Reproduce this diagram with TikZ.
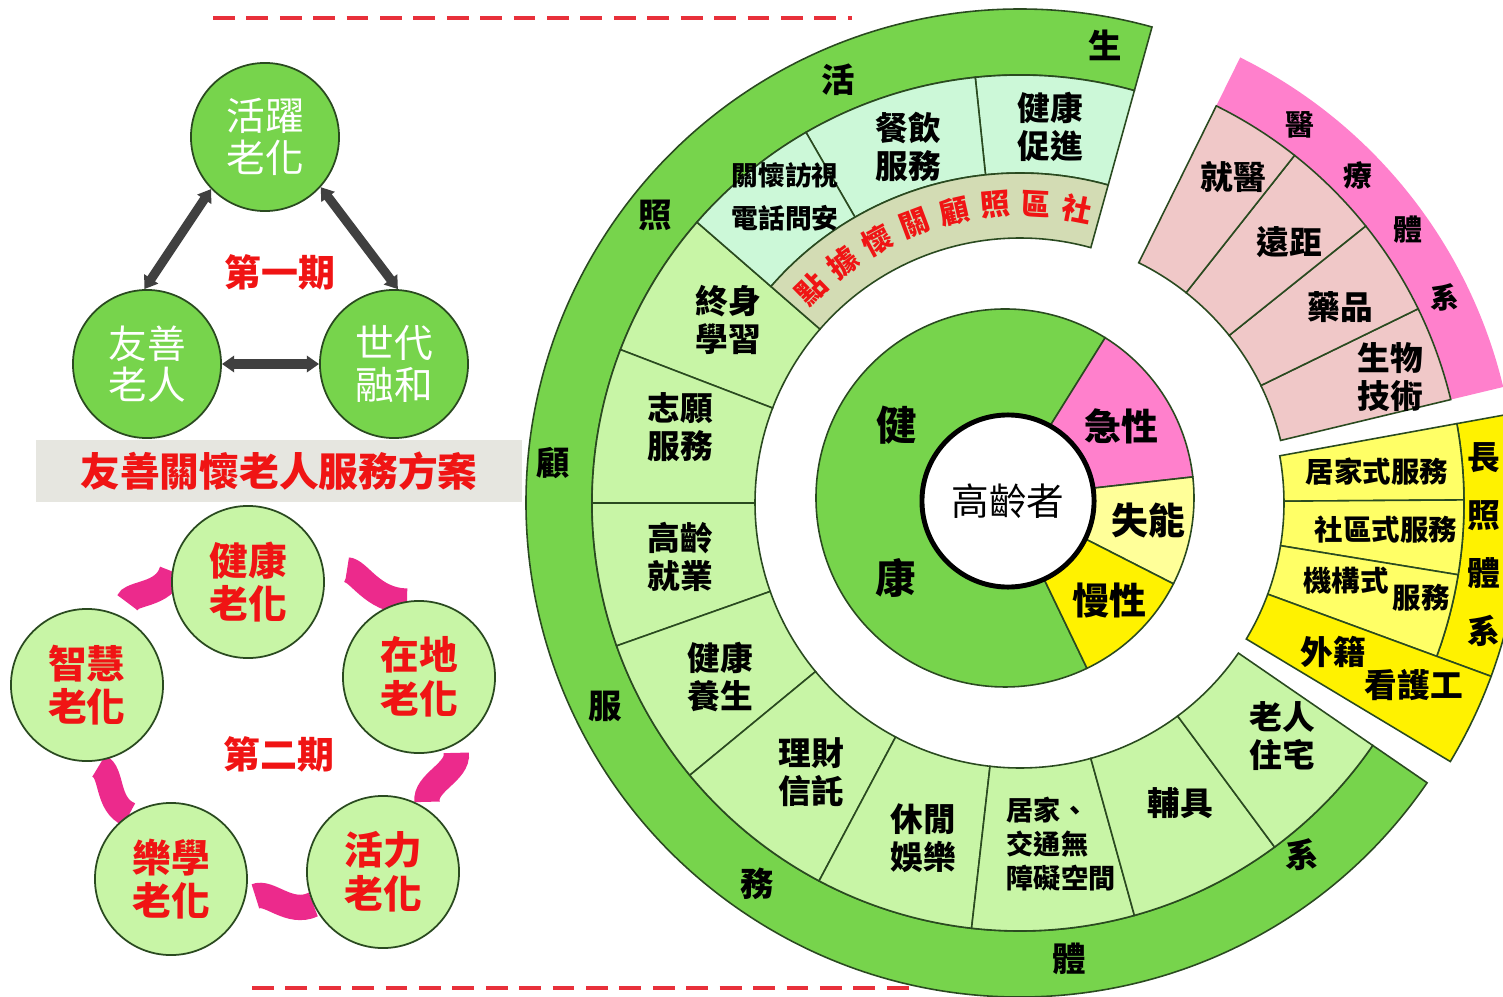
\documentclass[tikz,border=0pt]{standalone}
\usepackage{fontspec}
\setmainfont{Noto Sans CJK TC}
\usetikzlibrary{arrows.meta,backgrounds}

\definecolor{bandgreen}{HTML}{77D44C}
\definecolor{cellgreen}{HTML}{C8F5A6}
\definecolor{cellmint}{HTML}{CCF8D8}
\definecolor{celltan}{HTML}{D3DCB4}
\definecolor{bandpink}{HTML}{FF80CC}
\definecolor{cellrose}{HTML}{F0C8C8}
\definecolor{paleyellow}{HTML}{FFFF99}
\definecolor{cellyellow}{HTML}{FFFF66}
\definecolor{ribbonpink}{HTML}{EC2A8C}
\definecolor{dashred}{HTML}{E8303A}
\definecolor{edgedark}{HTML}{2A4A20}
\definecolor{bannergray}{HTML}{E6E6E0}
\definecolor{textred}{HTML}{F01414}
\definecolor{arrowgray}{HTML}{404040}

% annular sector: start angle, end angle, inner radius, outer radius, options
\newcommand{\ringseg}[5]{%
  \draw[#5] (#1:#3) arc[start angle=#1, end angle=#2, radius=#3]
    -- (#2:#4) arc[start angle=#2, end angle=#1, radius=#4] -- cycle;}

\begin{document}
\begin{tikzpicture}[x=0.01cm, y=0.01cm,
  every node/.style = {inner sep=0pt, align=center},
  seg/.style = {draw=edgedark, line width=0.45pt},
  bandchar/.style = {font=\fontsize{9.5}{10}\selectfont\bfseries},
  arcchar/.style = {text=textred, font=\fontsize{8.4}{9}\selectfont\bfseries},
  celltxt/.style = {font=\fontsize{9.3}{10.8}\selectfont\bfseries},
  smalltxt/.style = {font=\fontsize{7.7}{9.6}\selectfont\bfseries},
  yeltxt/.style = {font=\fontsize{8.1}{10}\selectfont\bfseries},
  piechar/.style = {font=\fontsize{10.5}{12}\selectfont\bfseries},
  firstcirc/.style = {circle, draw=edgedark, line width=0.5pt, fill=bandgreen,
    minimum size=1.48cm, text=white, font=\fontsize{11}{11.8}\selectfont},
  secondcirc/.style = {circle, draw=edgedark, line width=0.5pt, fill=cellgreen,
    minimum size=1.52cm, text=textred, font=\fontsize{11}{12.4}\selectfont\bfseries},
  twoway/.style = {draw=arrowgray, line width=2.6pt,
    >={Triangle[length=3.5pt,width=4.6pt]}, <->},
  ribbon/.style = {draw=ribbonpink, line width=7.2pt},
  redtitle/.style = {text=textred, font=\fontsize{10.5}{12}\selectfont\bfseries},
  dashline/.style = {draw=dashred, line width=1pt, dash pattern=on 6.2pt off 3.3pt}]

\useasboundingbox (0,0) rectangle (1503,-997);
\clip (0,0) rectangle (1503,-997);

\draw[dashline] (213,-18) -- (852,-18);
\draw[dashline] (252,-988) -- (920,-988);

% service ring
\begin{scope}[shift={(1020,-503)}]
  \ringseg{74.5}{325.5}{428}{494}{seg, fill=bandgreen}
  \foreach \a/\b in {139/159, 159/180, 180/199.5, 199.5/219.5, 219.5/242,
                     242/263.5, 263.5/285.5, 285.5/306.5, 306.5/325.5}
    {\ringseg{\a}{\b}{265}{428}{seg, fill=cellgreen}}
  \foreach \a/\b in {74.5/96, 96/120, 120/139}
    {\ringseg{\a}{\b}{330}{428}{seg, fill=cellmint}}
  \ringseg{74.5}{139}{265}{330}{seg, fill=celltan}
  \foreach \ch [count=\i from 0] in {社,區,照,顧,關,懷,據,點}
    \node[arcchar, rotate=79+7.9*\i-90] (shequ-\i) at ({79+7.9*\i}:299) {\ch};
  % medical
  \ringseg{13.5}{63.7}{443}{497}{draw=none, fill=bandpink}
  \foreach \a/\b in {13.5/26, 26/38.7, 38.7/51.7, 51.7/63.7}
    {\ringseg{\a}{\b}{268}{443}{seg, fill=cellrose}}
  % long-term care
  \ringseg{-20.2}{10.3}{444}{502}{seg, fill=yellow}
  \foreach \a/\b in {0.4/10.3, -9.3/0.4, -20.2/-9.3}
    {\ringseg{\a}{\b}{264}{444}{seg, fill=cellyellow}}
  \ringseg{-31}{-20.2}{264}{502}{seg, fill=yellow}
\end{scope}

% health pie
\begin{scope}[shift={(1005,-498)}]
  \foreach \a/\b/\c in {58/295.7/bandgreen, 6.4/58/bandpink, -27/6.4/paleyellow, -64.3/-27/yellow}
    {\draw[seg, fill=\c] (0,0) -- (\a:189) arc[start angle=\a, end angle=\b, radius=189] -- cycle;}
\end{scope}
\node[circle, draw, line width=1.4pt, fill=white, minimum size=1.72cm,
  font=\fontsize{10.7}{12}\selectfont] (gaoling) at (1008,-501) {高齡者};
\node[font=\fontsize{11.5}{12}\selectfont\bfseries] (jian) at (897,-425) {健};
\node[font=\fontsize{11.5}{12}\selectfont\bfseries] (kang) at (896,-578) {康};
\node[piechar] (jixing) at (1121,-426) {急性};
\node[piechar] (shineng) at (1148,-521) {失能};
\node[piechar] (manxing) at (1109,-601) {慢性};

% ring band letters
\foreach \ch/\x/\y [count=\i] in {生/1105/45, 活/838/80, 照/655/215, 顧/553/463,
    服/605/706, 務/757/884, 體/1069/959, 系/1302/855}
  \node[bandchar] (shfw-\i) at (\x,-\y) {\ch};
\foreach \ch/\x/\y [count=\i] in {醫/1300/125, 療/1358/175, 體/1408/230, 系/1445/297}
  \node[bandchar, font=\fontsize{8.2}{9}\selectfont\bfseries] (ylt-\i) at (\x,-\y) {\ch};
\node[bandchar, font=\fontsize{9.3}{16.5}\selectfont\bfseries] (zhangzhao) at (1484,-545) {長\\照\\體\\系};

% ring cells
\node[celltxt] (jkcj) at (1050,-127) {健康\\促進};
\node[celltxt] (cyfw) at (908,-147) {餐飲\\服務};
\node[smalltxt, font=\fontsize{7.6}{12.2}\selectfont\bfseries] (ghfs) at (785,-197) {關懷訪視\\電話問安};
\node[celltxt] (zsxx) at (728,-320) {終身\\學習};
\node[celltxt] (zyfw) at (680,-427) {志願\\服務};
\node[celltxt] (gljy) at (680,-557) {高齡\\就業};
\node[celltxt] (jkys) at (720,-677) {健康\\養生};
\node[celltxt] (lcxt) at (811,-772) {理財\\信託};
\node[celltxt] (xxyl) at (923,-838) {休閒\\娛樂};
\node[smalltxt, align=left] (jjwza) at (1061,-844) {居家、\\交通無\\障礙空間};
\node[celltxt] (fuju) at (1180,-803) {輔具};
\node[celltxt] (lrzz) at (1282,-736) {老人\\住宅};
\node[celltxt] (jiuyi) at (1233,-177) {就醫};
\node[celltxt] (yuanju) at (1289,-242) {遠距};
\node[celltxt] (yaopin) at (1340,-307) {藥品};
\node[celltxt] (swjs) at (1390,-377) {生物\\技術};
\node[yeltxt] (jjsfw) at (1377,-472) {居家式服務};
\node[yeltxt] (sqsfw) at (1386,-530) {社區式服務};
\node[yeltxt] (jgs-a) at (1346,-581) {機構式};
\node[yeltxt] (jgs-b) at (1421,-598) {服務};
\node[celltxt] (waiji-a) at (1333,-652) {外籍};
\node[celltxt] (waiji-b) at (1414,-685) {看護工};

% first period
\node[firstcirc] (huoyue) at (265,-137) {活躍\\老化};
\node[firstcirc] (youshan) at (147,-364) {友善\\老人};
\node[firstcirc] (shidai) at (394,-364) {世代\\融和};
\node[redtitle] (diyi) at (280,-272) {第一期};
\draw[twoway] (huoyue.224) -- (youshan.92);
\draw[twoway] (huoyue.-42) -- (shidai.87);
\draw[twoway] (youshan.0) -- (shidai.180);

\node[fill=bannergray, minimum width=4.85cm, minimum height=0.62cm, text=textred,
  font=\fontsize{11.3}{12}\selectfont\bfseries] (fangan) at (279,-471) {友善關懷老人服務方案};

% second period
\node[secondcirc] (jiankang) at (248,-582) {健康\\老化};
\node[secondcirc] (zaidi) at (419,-677) {在地\\老化};
\node[secondcirc] (huoli) at (383,-872) {活力\\老化};
\node[secondcirc] (lexue) at (171,-879) {樂學\\老化};
\node[secondcirc] (zhihui) at (87,-685) {智慧\\老化};
\node[redtitle] (dier) at (279,-754) {第二期};
\begin{scope}[on background layer]
  \draw[ribbon, shorten <=0.23cm] (jiankang.9) to[out=0, in=180] (zaidi.99);
  \draw[ribbon, shorten <=0.08cm, shorten >=0.08cm] (zaidi.-62) to[out=278, in=98] (huoli.54);
  \draw[ribbon, shorten >=0.12cm] (huoli.205) to[out=205, in=25] (lexue.-17);
  \draw[ribbon, shorten >=0.1cm] (lexue.123) to[out=156, in=336] (zhihui.-88);
  \draw[ribbon, shorten <=0.15cm] (zhihui.62) to[out=73, in=253] (jiankang.172);
\end{scope}
\end{tikzpicture}
\end{document}
